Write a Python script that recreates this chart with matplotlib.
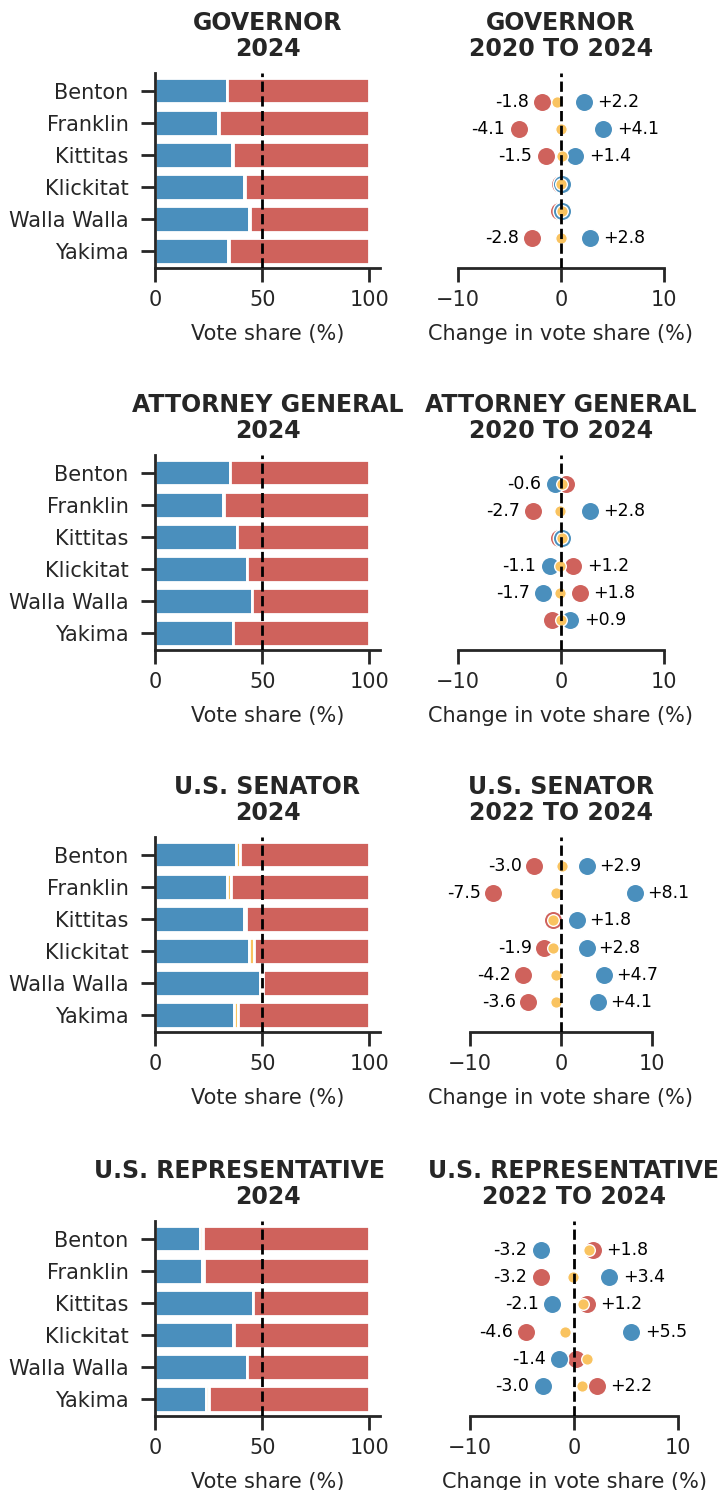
import matplotlib
matplotlib.use("Agg")
import numpy as np
import matplotlib.pyplot as plt

counties = ["Benton", "Franklin", "Kittitas", "Klickitat", "Walla Walla", "Yakima"]

races = ["GOVERNOR", "ATTORNEY GENERAL", "U.S. SENATOR", "U.S. REPRESENTATIVE"]
periods = ["2020 TO 2024", "2020 TO 2024", "2022 TO 2024", "2022 TO 2024"]

# 2024 vote share (%) by county
gov_dem = [33.5, 29.6, 35.8, 41.6, 43.7, 34.1]
gov_oth = [0.2, 0.2, 0.4, 0.6, 0.4, 0.3]
ag_dem = [35.0, 31.9, 38.3, 42.7, 45.1, 36.2]
ag_oth = [0.1, 0.1, 0.1, 0.1, 0.1, 0.1]
sen_dem = [37.7, 33.5, 41.6, 43.8, 48.9, 36.7]
sen_oth = [1.8, 1.8, 1.0, 2.6, 1.6, 2.1]
rep_dem = [21.2, 21.7, 45.5, 36.2, 43.0, 23.8]
rep_oth = [1.1, 1.2, 0.1, 0.8, 0.1, 1.2]

# change in vote share (percentage points) since previous election
gov_d_chg = [2.2, 4.1, 1.4, 0.1, 0.1, 2.8]
gov_r_chg = [-1.8, -4.1, -1.5, -0.1, -0.2, -2.8]
gov_o_chg = [-0.4, 0.0, 0.1, 0.0, 0.1, 0.0]
ag_d_chg = [-0.6, 2.8, 0.1, -1.1, -1.7, 0.9]
ag_r_chg = [0.5, -2.7, -0.2, 1.2, 1.8, -0.9]
ag_o_chg = [0.1, -0.1, 0.1, -0.1, -0.1, 0.0]
sen_d_chg = [2.9, 8.1, 1.8, 2.8, 4.7, 4.1]
sen_r_chg = [-3.0, -7.5, -0.9, -1.9, -4.2, -3.6]
sen_o_chg = [0.1, -0.6, -0.9, -0.9, -0.5, -0.5]
rep_d_chg = [-3.2, 3.4, -2.1, 5.5, -1.4, -3.0]
rep_r_chg = [1.8, -3.2, 1.2, -4.6, 0.2, 2.2]
rep_o_chg = [1.4, -0.1, 0.9, -0.9, 1.2, 0.8]

share_dem = [gov_dem, ag_dem, sen_dem, rep_dem]
share_oth = [gov_oth, ag_oth, sen_oth, rep_oth]
chg_dem = [gov_d_chg, ag_d_chg, sen_d_chg, rep_d_chg]
chg_rep = [gov_r_chg, ag_r_chg, sen_r_chg, rep_r_chg]
chg_oth = [gov_o_chg, ag_o_chg, sen_o_chg, rep_o_chg]

BLUE = "#4A8FBD"
RED = "#CF625C"
GOLD = "#F9C360"
INK = "#262626"

# only label the bigger moves
DEM_LABEL_MIN = 0.5
REP_LABEL_MIN = 1.0

plt.rcParams.update({
    "font.family": "DejaVu Sans",
    "text.color": INK,
    "axes.labelcolor": INK,
    "axes.edgecolor": INK,
    "axes.linewidth": 2.0,
    "xtick.color": INK,
    "ytick.color": INK,
    "xtick.labelcolor": INK,
    "ytick.labelcolor": INK,
    "xtick.major.size": 10,
    "ytick.major.size": 10,
    "xtick.major.width": 2.0,
    "ytick.major.width": 2.0,
    "xtick.major.pad": 6,
    "ytick.major.pad": 9,
    "xtick.labelsize": 15,
    "ytick.labelsize": 15,
    "axes.labelsize": 15,
    "axes.labelpad": 10,
})

W, H = 725, 1490
fig = plt.figure(figsize=(W / 100, H / 100), dpi=100)


def px_axes(x0, top, w, h):
    return fig.add_axes([x0 / W, 1 - (top + h) / H, w / W, h / H])


TITLE_PAD = 12.6
TITLE_GAP = 18.2


def two_line_title(ax, first, second, shift=0):
    # second line sits on the axes like a normal title, first line above it
    ax.set_title(second, fontsize=17, fontweight="bold", pad=TITLE_PAD)
    ax.annotate(first, xy=(0.5, 1), xycoords="axes fraction",
                xytext=(shift, TITLE_PAD + TITLE_GAP), textcoords="offset points",
                ha="center", va="baseline", fontsize=17, fontweight="bold")


row_tops = [73, 455, 837, 1221]
row_h = 195
right_cx = [561, 561, 561, 574]
right_half = [12.0, 12.0, 13.6, 11.9]
right_w = 248
# long race names get nudged left so they clear the right-hand title
left_title_shift = [0, 0, 0, -20]

y = np.arange(len(counties))

for i, race in enumerate(races):
    top = row_tops[i]

    # left: 2024 vote share stacked bars
    ax = px_axes(155, top, 225, row_h)
    dem = np.array(share_dem[i])
    oth = np.array(share_oth[i])
    rep = 100 - dem - oth
    bar_kw = dict(height=0.8, edgecolor="white", linewidth=2)
    ax.barh(y, dem, color=BLUE, **bar_kw)
    ax.barh(y, oth, left=dem, color=GOLD, **bar_kw)
    ax.barh(y, rep, left=dem + oth, color=RED, **bar_kw)
    ax.axvline(50, color="black", ls="--", lw=2, zorder=4)
    ax.set_xlim(0, 105)
    ax.set_ylim(5.53, -0.55)
    ax.set_yticks(y)
    ax.set_yticklabels(counties)
    ax.set_xticks([0, 50, 100])
    ax.set_xlabel("Vote share (%)")
    two_line_title(ax, race, "2024", shift=left_title_shift[i])
    for s in ("top", "right"):
        ax.spines[s].set_visible(False)

    # right: change since previous race
    axr = px_axes(right_cx[i] - right_w / 2, top, right_w, row_h)
    axr.axvline(0, color="black", ls="--", lw=2, zorder=4)
    axr.scatter(chg_rep[i], y, s=175, color=RED, edgecolor="white", linewidth=1, zorder=2)
    axr.scatter(chg_dem[i], y, s=175, color=BLUE, edgecolor="white", linewidth=1, zorder=3)
    axr.scatter(chg_oth[i], y, s=70, color=GOLD, edgecolor="white", linewidth=1, zorder=3.5)

    for vals, vmin in ((chg_rep[i], REP_LABEL_MIN), (chg_dem[i], DEM_LABEL_MIN)):
        for yy, v in zip(y, vals):
            if abs(v) < vmin:
                continue
            if v < 0:
                axr.text(v - 1.3, yy, f"{v:.1f}", ha="right", va="center",
                         fontsize=12.5, color="black")
            else:
                axr.text(v + 1.3, yy, f"+{v:.1f}", ha="left", va="center",
                         fontsize=12.5, color="black")

    axr.set_xlim(-right_half[i], right_half[i])
    axr.set_ylim(6.08, -1.05)
    axr.set_yticks([])
    axr.set_xticks([-10, 0, 10])
    axr.set_xlabel("Change in vote share (%)")
    two_line_title(axr, race, periods[i])
    for s in ("top", "right", "left"):
        axr.spines[s].set_visible(False)
    axr.spines["bottom"].set_bounds(-10, 10)

fig.savefig("out.png", dpi=100)
